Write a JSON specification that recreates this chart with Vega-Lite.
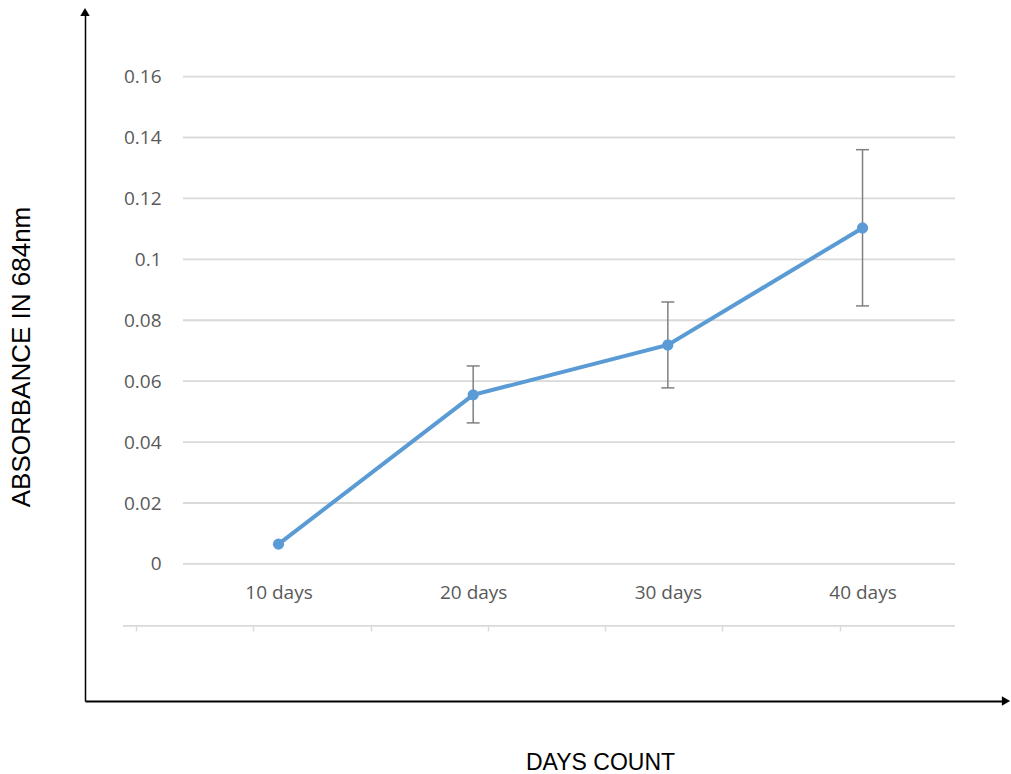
{
  "$schema": "https://vega.github.io/schema/vega-lite/v6.json",
  "width": 921,
  "height": 689,
  "autosize": {"type": "none"},
  "padding": {"left": 85, "top": 12, "right": 5, "bottom": 73},
  "background": "white",
  "config": {"view": {"stroke": null}},
  "datasets": {
    "absorbance": [
      {"days": 10, "absorbance": 0.0065, "lo": null, "hi": null},
      {"days": 20, "absorbance": 0.0555, "lo": 0.0463, "hi": 0.065},
      {"days": 30, "absorbance": 0.0719, "lo": 0.0578, "hi": 0.086},
      {"days": 40, "absorbance": 0.1103, "lo": 0.0847, "hi": 0.136}
    ],
    "grid": [
      {"v": 0}, {"v": 0.02}, {"v": 0.04}, {"v": 0.06}, {"v": 0.08},
      {"v": 0.1}, {"v": 0.12}, {"v": 0.14}, {"v": 0.16}
    ]
  },
  "data": {"name": "absorbance"},
  "layer": [
    {
      "layer": [
        {
          "data": {"name": "grid"},
          "mark": {"type": "rule", "color": "#d9d9d9", "strokeWidth": 1.8},
          "encoding": {
            "x": {"datum": 5.09, "type": "quantitative"},
            "x2": {"datum": 44.75},
            "y": {"field": "v", "type": "quantitative"}
          }
        },
        {
          "mark": {"type": "rule", "color": "#808080", "strokeWidth": 1.5},
          "encoding": {
            "x": {"field": "days", "type": "quantitative"},
            "y": {"field": "lo", "type": "quantitative"},
            "y2": {"field": "hi"}
          }
        },
        {
          "mark": {"type": "tick", "orient": "horizontal", "size": 13, "thickness": 1.5, "color": "#808080", "opacity": 1},
          "encoding": {
            "x": {"field": "days", "type": "quantitative"},
            "y": {"field": "lo", "type": "quantitative"}
          }
        },
        {
          "mark": {"type": "tick", "orient": "horizontal", "size": 13, "thickness": 1.5, "color": "#808080", "opacity": 1},
          "encoding": {
            "x": {"field": "days", "type": "quantitative"},
            "y": {"field": "hi", "type": "quantitative"}
          }
        },
        {
          "mark": {"type": "line", "color": "#5b9bd5", "strokeWidth": 4},
          "encoding": {
            "x": {
              "field": "days",
              "type": "quantitative",
              "scale": {"domain": [0.06, 47.37], "nice": false, "zero": false},
              "axis": {
                "values": [10, 20, 30, 40],
                "labelExpr": "datum.value + ' days'",
                "grid": false,
                "ticks": false,
                "tickSize": 0,
                "domainColor": "#000000",
                "domainWidth": 1.8,
                "labelFont": "Open Sans",
                "labelFontSize": 19,
                "labelColor": "#595959",
                "labelPadding": -103,
                "labelBaseline": "alphabetic",
                "labelFlush": false,
                "labelOverlap": false,
                "title": "DAYS COUNT",
                "titleFont": "Liberation Sans",
                "titleFontSize": 23,
                "titleFontWeight": "normal",
                "titleColor": "#000000",
                "titlePadding": 50,
                "titleX": 515
              }
            },
            "y": {
              "field": "absorbance",
              "type": "quantitative",
              "scale": {"domain": [-0.045, 0.1812], "nice": false, "zero": false},
              "axis": {
                "values": [0, 0.02, 0.04, 0.06, 0.08, 0.1, 0.12, 0.14, 0.16],
                "format": "~g",
                "grid": false,
                "ticks": false,
                "tickSize": 0,
                "domainColor": "#000000",
                "domainWidth": 1.5,
                "labelFont": "Open Sans",
                "labelFontSize": 19,
                "labelColor": "#595959",
                "labelPadding": -76,
                "labelAlign": "right",
                "labelBaseline": "middle",
                "labelOverlap": false,
                "title": "ABSORBANCE IN 684nm",
                "titleFont": "Liberation Sans",
                "titleFontSize": 26,
                "titleFontWeight": "normal",
                "titleColor": "#000000",
                "titlePadding": 51
              }
            }
          }
        },
        {
          "mark": {"type": "point", "filled": true, "color": "#5b9bd5", "size": 125, "opacity": 1},
          "encoding": {
            "x": {"field": "days", "type": "quantitative"},
            "y": {"field": "absorbance", "type": "quantitative"}
          }
        },
        {
          "data": {"values": [{}]},
          "mark": {"type": "point", "shape": "triangle-up", "filled": true, "color": "#000000", "size": 90, "opacity": 1},
          "encoding": {
            "x": {"datum": 0.06, "type": "quantitative"},
            "y": {"datum": 0.1812, "type": "quantitative"}
          }
        },
        {
          "data": {"values": [{}]},
          "mark": {"type": "point", "shape": "triangle-right", "filled": true, "color": "#000000", "size": 90, "opacity": 1},
          "encoding": {
            "x": {"datum": 47.37, "type": "quantitative"},
            "y": {"datum": -0.045, "type": "quantitative"}
          }
        }
      ]
    },
    {
      "data": {"values": [{}]},
      "mark": {"type": "rule", "color": "#d9d9d9", "strokeWidth": 1.8},
      "encoding": {
        "x": {
          "datum": -0.111,
          "type": "quantitative",
          "scale": {"domain": [-0.4348, 7.417], "nice": false, "zero": false},
          "axis": {
            "orient": "bottom",
            "offset": -75,
            "values": [0, 1, 2, 3, 4, 5, 6],
            "labels": false,
            "domain": false,
            "grid": false,
            "ticks": true,
            "tickSize": 5,
            "tickColor": "#d9d9d9",
            "tickWidth": 1.5,
            "title": null
          }
        },
        "x2": {"datum": 6.982},
        "y": {"datum": -0.02036, "type": "quantitative"}
      }
    }
  ],
  "resolve": {"scale": {"x": "independent"}, "axis": {"x": "independent"}}
}
